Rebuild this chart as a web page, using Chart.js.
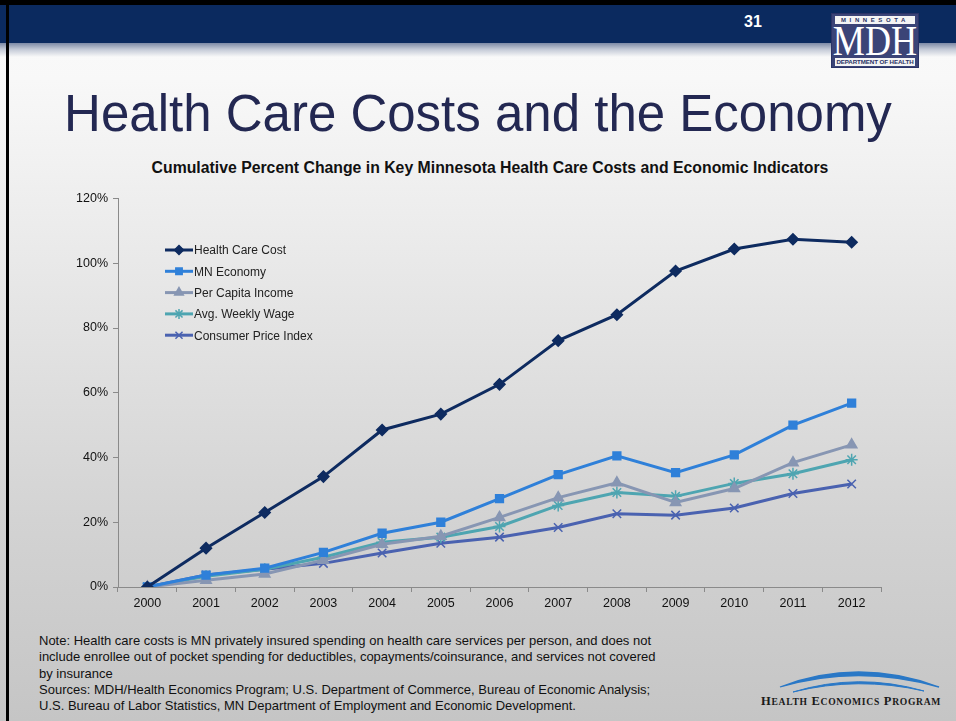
<!DOCTYPE html>
<html>
<head>
<meta charset="utf-8">
<title>Health Care Costs and the Economy</title>
<script src="https://cdn.jsdelivr.net/npm/chart.js@4.4.0/dist/chart.umd.min.js"></script>
<style>
  html, body { margin: 0; padding: 0; }
  body {
    width: 956px; height: 721px; overflow: hidden; position: relative;
    font-family: "Liberation Sans", Arial, sans-serif;
    background: linear-gradient(to bottom, #fbfbfb 0px, #f8f8f8 80px, #e9e9e9 260px, #d3d3d3 520px, #c5c5c5 721px);
  }
  #topbar {
    position: absolute; left: 0; top: 0; width: 956px; height: 43px;
    background: #0b2a5f; border-top: 5px solid #000; box-sizing: border-box;
  }
  #topfade {
    position: absolute; left: 0; top: 43px; width: 956px; height: 14px;
    background: linear-gradient(to bottom, #7d8aa6 0%, #c3c9d6 45%, #f9f9f9 100%);
  }
  #leftedge { position: absolute; left: 6px; top: 0; width: 3px; height: 721px; background: #000; }
  #pagenum {
    position: absolute; left: 744px; top: 13px; color: #fff;
    font-weight: bold; font-size: 16px;
  }
  #mdh {
    position: absolute; left: 831px; top: 13px; width: 88px; height: 55px;
    background: #3b4477; box-sizing: border-box; border: 1px solid #2b3366;
    overflow: hidden;
  }
  #mdh .state {
    position: absolute; left: 3px; top: 2px; width: 80px; height: 8px;
    background: #f4f4f4; color: #2b3366; font-size: 6px; font-weight: bold;
    line-height: 8px; text-align: center; letter-spacing: 3.6px; white-space: nowrap;
  }
  #mdh .abbr {
    position: absolute; left: -12px; top: 8px; width: 110px; text-align: center;
    color: #fff; font-family: "Liberation Serif", "Times New Roman", serif;
    font-size: 43px; line-height: 38px; transform: scaleX(0.84); white-space: nowrap;
  }
  #mdh .dept {
    position: absolute; left: 3px; top: 44px; width: 80px; height: 8px;
    background: #f4f4f4; color: #2b3366; font-size: 6.2px; font-weight: bold;
    line-height: 8px; text-align: center; white-space: nowrap; letter-spacing: -0.1px;
  }
  #title {
    position: absolute; left: 0; top: 84px; width: 956px; text-align: center;
    font-size: 51px; color: #232852; line-height: 60px;
  }
  #charttitle {
    position: absolute; left: 90px; top: 159px; width: 800px; text-align: center;
    font-size: 15.8px; font-weight: bold; color: #111; white-space: nowrap;
  }
  #wrap { position: absolute; left: 0; top: 186px; width: 956px; height: 432px; }
  #notes {
    position: absolute; left: 39px; top: 633px; width: 720px;
    font-size: 13px; line-height: 16.3px; color: #111; white-space: nowrap;
  }
  #hep { position: absolute; left: 758px; top: 662px; }
</style>
</head>
<body>
<div id="topbar"></div>
<div id="topfade"></div>
<div id="leftedge"></div>
<div id="pagenum">31</div>
<div id="mdh">
  <div class="state">MINNESOTA</div>
  <div class="abbr">MDH</div>
  <div class="dept">DEPARTMENT OF HEALTH</div>
</div>

<div id="title">Health Care Costs and the Economy</div>
<div id="charttitle">Cumulative Percent Change in Key Minnesota Health Care Costs and Economic Indicators</div>

<div id="wrap"><canvas id="costChart"></canvas></div>

<div id="notes">
  Note: Health care costs is MN privately insured spending on health care services per person, and does not<br>
  include enrollee out of pocket spending for deductibles, copayments/coinsurance, and services not covered<br>
  by insurance<br>
  Sources: MDH/Health Economics Program; U.S. Department of Commerce, Bureau of Economic Analysis;<br>
  U.S. Bureau of Labor Statistics, MN Department of Employment and Economic Development.
</div>

<svg id="hep" width="196" height="52" viewBox="0 0 196 52">
  <path d="M22 25 Q100 -5 181 25 Q100 2 22 25 Z" fill="#2a78c6" stroke="#2a78c6" stroke-width="1.3"/>
  <path d="M35 30 Q100 10 166 29 Q100 14 35 30 Z" fill="#2a78c6" stroke="#2a78c6" stroke-width="1"/>
  <text x="3" y="43" font-family="Liberation Serif, serif" font-weight="bold" font-size="12.5" fill="#1a1a1a" letter-spacing="0.7">H<tspan font-size="9.6">EALTH</tspan> E<tspan font-size="9.6">CONOMICS</tspan> P<tspan font-size="9.6">ROGRAM</tspan></text>
</svg>

<script>
// years on the x axis
var years = ["2000", "2001", "2002", "2003", "2004", "2005", "2006",
             "2007", "2008", "2009", "2010", "2011", "2012"];

// cumulative percent change since 2000
var healthCareCost = [0, 12.0, 23.0, 34.1, 48.5, 53.4, 62.6, 76.1, 84.1, 97.6, 104.4, 107.4, 106.5];
var mnEconomy      = [0, 3.7, 5.8, 10.7, 16.6, 20.0, 27.3, 34.7, 40.5, 35.3, 40.8, 50.0, 56.8];
var perCapitaIncome = [0, 2.1, 4.0, 8.3, 13.2, 15.7, 21.5, 27.6, 32.2, 26.1, 30.4, 38.4, 43.9];
var avgWeeklyWage  = [0, 3.3, 5.5, 9.2, 13.8, 15.4, 18.7, 25.2, 29.2, 28.0, 32.0, 35.0, 39.3];
var consumerPrice  = [0, 3.7, 5.5, 7.3, 10.5, 13.5, 15.4, 18.4, 22.6, 22.2, 24.4, 28.9, 31.8];

var yTicks = [0, 20, 40, 60, 80, 100, 120];

function series(label, data, color, style, radius) {
  return {
    label: label,
    data: data,
    borderColor: color,
    backgroundColor: color,
    pointBorderColor: color,
    pointBackgroundColor: color,
    borderWidth: 3,
    pointStyle: style,
    pointRadius: radius,
    pointBorderWidth: 1.5,
    tension: 0
  };
}

// little legend drawn inside the plot, top-left
var innerLegend = {
  id: "innerLegend",
  afterDraw: function (chart) {
    var ctx = chart.ctx;
    var x0 = 165, y0 = 250 - 186, gap = 21.3;
    ctx.save();
    chart.data.datasets.forEach(function (ds, i) {
      var y = y0 + i * gap;
      ctx.strokeStyle = ds.borderColor;
      ctx.fillStyle = ds.backgroundColor;
      ctx.lineWidth = 3;
      ctx.beginPath();
      ctx.moveTo(x0, y);
      ctx.lineTo(x0 + 28, y);
      ctx.stroke();
      ctx.lineWidth = 1.5;
      Chart.helpers.drawPoint(ctx, {
        pointStyle: ds.pointStyle, radius: ds.pointRadius - 1, borderWidth: 1.5, rotation: 0
      }, x0 + 14, y);
      ctx.fillStyle = "#222";
      ctx.font = "12px 'Liberation Sans', Arial, sans-serif";
      ctx.textBaseline = "middle";
      ctx.fillText(ds.label, x0 + 29, y + 1);
    });
    ctx.restore();
  }
};

var ctx = document.getElementById("costChart").getContext("2d");

var costChart = new Chart(ctx, {
  type: "line",
  data: {
    labels: years,
    datasets: [
      series("Health Care Cost", healthCareCost, "#0e2b60", "rectRot", 5.5),
      series("MN Economy", mnEconomy, "#2f80d9", "rect", 5.5),
      series("Per Capita Income", perCapitaIncome, "#8796b3", "triangle", 6),
      series("Avg. Weekly Wage", avgWeeklyWage, "#4ea5b1", "star", 6),
      series("Consumer Price Index", consumerPrice, "#4a62b0", "crossRot", 6)
    ]
  },
  options: {
    responsive: true,
    maintainAspectRatio: false,
    animation: false,
    layout: { padding: { top: 10, right: 75, left: 0, bottom: 0 } },
    plugins: {
      legend: { display: false },
      tooltip: { enabled: false }
    },
    scales: {
      x: {
        offset: true,
        grid: { offset: true, drawOnChartArea: false, tickLength: 5, color: "#8a8a8a" },
        border: { color: "#8a8a8a", width: 1 },
        ticks: { color: "#111", padding: 4, font: { size: 12.5, family: "'Liberation Sans', Arial" } },
        afterFit: function (scale) { scale.height = 31; }
      },
      y: {
        min: 0,
        max: 120,
        afterBuildTicks: function (scale) {
          scale.ticks = yTicks.map(function (v) { return { value: v }; });
        },
        grid: { drawOnChartArea: false, tickLength: 5, color: "#8a8a8a" },
        border: { color: "#8a8a8a", width: 1 },
        ticks: {
          color: "#111",
          padding: 5,
          font: { size: 12.5, family: "'Liberation Sans', Arial" },
          callback: function (v) { return v + "%"; }
        },
        afterFit: function (scale) { scale.width = 118; }
      }
    }
  },
  plugins: [innerLegend]
});
</script>
</body>
</html>
